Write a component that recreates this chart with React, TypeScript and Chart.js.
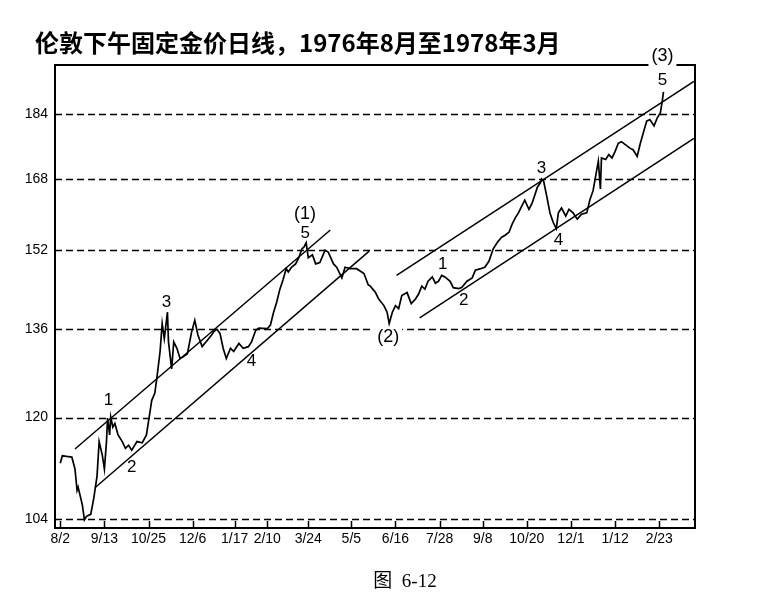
import React, { useEffect, useRef } from "react";
import Chart from "chart.js/auto";

const title = "伦敦下午固定金价日线，1976年8月至1978年3月";
const caption = "图\u00a0\u00a06-12";

// x values are days counted from 2 Aug 1976 (tick places as printed on the original)
const tickDays = [0, 42, 84, 126, 166, 197, 236, 277, 319, 361, 402, 444, 486, 528, 570];
const tickLabels = ["8/2", "9/13", "10/25", "12/6", "1/17", "2/10", "3/24", "5/5", "6/16", "7/28", "9/8", "10/20", "12/1", "1/12", "2/23"];
const priceTicks = [104, 120, 136, 152, 168, 184];

const goldDays = [
  0, 2, 6, 11, 14, 16, 17, 21, 23, 25, 29, 32, 35, 37, 40, 42, 44, 45, 47, 48,
  50, 52, 55, 59, 62, 65, 68, 73, 78, 82, 86, 87, 90, 92, 95, 97, 99, 102, 103, 106,
  108, 111, 114, 117, 121, 125, 128, 131, 135, 140, 144,
  146, 149, 152, 155, 158, 162, 165, 170, 174, 179, 182, 186, 189, 197, 200, 203, 206, 209, 212, 215,
  217, 220, 224, 227, 230, 232, 234, 236, 240, 243, 247, 252, 255, 260, 263, 268, 271, 276, 282, 289, 293,
  295, 300, 303, 308, 311, 313, 316, 319, 322, 325, 330, 334, 338, 341, 344, 347, 350, 354, 357, 360,
  363, 366, 371, 374, 379, 382, 387, 392, 395, 400, 404, 408, 412, 416, 420, 423, 427, 430, 433, 436,
  439, 442, 446, 449, 452, 454,
  457, 458, 460, 463, 466, 469, 472, 474, 477, 481, 484, 488, 492, 496, 501, 504, 507, 512, 514, 515,
  519, 522, 525, 528, 531, 534, 538, 542, 545, 549, 552, 555, 558, 561, 565, 568, 571, 573, 574,
];
const goldPrices = [
  112.5, 113.7, 113.6, 113.5, 111.6, 108.3, 108.8, 106.1, 103.9, 104.4, 104.7, 107.2, 110.5, 116.0, 113.8, 111.6, 116.0, 119.9, 117.1, 120.1,
  118.4, 119.0, 117.1, 116.0, 114.9, 115.4, 114.6, 116.0, 115.8, 117.1, 121.7, 122.9, 124.2, 127.0, 131.7, 137.0, 134.1, 139.2, 133.5, 128.5,
  133.5, 132.3, 130.4, 130.7, 131.3, 135.4, 137.6, 134.8, 132.6, 133.8, 134.8,
  135.4, 135.9, 135.1, 132.3, 130.4, 132.3, 131.7, 133.2, 132.3, 132.6, 133.5, 135.7, 136.1, 136.0, 136.7, 139.2, 141.2, 143.8, 145.7, 148.0,
  147.3, 148.3, 149.0, 150.3, 152.2, 152.6, 153.5, 150.3, 150.9, 149.0, 149.3, 151.9, 151.5, 149.0, 148.3, 146.1, 148.3, 148.0, 148.0, 147.0, 144.7,
  144.4, 143.1, 141.8, 140.5, 139.2, 137.0, 139.2, 140.5, 139.9, 142.5, 143.1, 140.9, 141.8, 142.8, 144.4, 143.8, 145.4, 146.3, 145.0, 145.4,
  146.6, 146.3, 145.4, 144.1, 143.9, 144.1, 145.4, 146.1, 147.7, 148.0, 148.3, 149.6, 152.2, 153.6, 154.7, 155.1, 155.8, 157.6, 159.0, 160.1,
  161.6, 163.0, 160.9, 162.3, 164.5, 166.0,
  167.1, 167.9, 167.4, 163.8, 160.1, 158.0, 156.6, 160.1, 161.2, 159.4, 160.9, 160.1, 158.7, 159.8, 160.1, 163.1, 165.2, 172.2, 165.6, 173.0,
  172.6, 173.8, 173.0, 174.6, 176.6, 177.0, 176.2, 175.4, 175.0, 173.4, 176.6, 179.4, 182.2, 182.6, 181.0, 183.0, 184.3, 187.7, 189.9,
];

// trend channel lines, start and end of each
const channelDays = [[14, 257], [33, 294], [320, 603], [342, 603]];
const channelPrices = [[114.8, 156.3], [108.7, 151.7], [146.6, 192.7], [138.1, 177.8]];

// Elliott wave counts
const waveLabels = ["1", "2", "3", "4", "5", "(1)", "(2)", "1", "2", "3", "4", "5", "(3)"];
const waveDays = [46, 68, 101, 182, 233, 233, 312, 364, 384, 458, 474, 573, 573];
const wavePrices = [122.9, 111.8, 141.2, 129.8, 155.5, 159.9, 134.5, 148.9, 141.6, 170.6, 154.0, 192.9, 199.7];

const tickFont = "'Liberation Sans', Arial, sans-serif";

const framePlugin = {
  id: "frame",
  beforeDatasetsDraw(chart: any) {
    const { ctx, chartArea: a, scales } = chart;
    ctx.save();
    ctx.strokeStyle = "#000";
    ctx.lineWidth = 1.6;
    ctx.setLineDash([7, 4]);
    priceTicks.forEach((v) => {
      const y = Math.round(scales.y.getPixelForValue(v)) + 0.5;
      ctx.beginPath();
      ctx.moveTo(a.left, y);
      ctx.lineTo(a.right, y);
      ctx.stroke();
    });
    ctx.restore();
  },
  afterDatasetsDraw(chart: any) {
    const { ctx, chartArea: a, scales } = chart;
    ctx.save();
    ctx.strokeStyle = "#000";
    ctx.lineWidth = 2;
    ctx.strokeRect(a.left, a.top, a.right - a.left, a.bottom - a.top);
    ctx.lineWidth = 1.5;
    tickDays.forEach((d) => {
      const x = Math.round(scales.x.getPixelForValue(d)) + 0.5;
      ctx.beginPath();
      ctx.moveTo(x, a.bottom);
      ctx.lineTo(x, a.bottom - 7);
      ctx.stroke();
    });
    ctx.textAlign = "center";
    ctx.textBaseline = "middle";
    waveLabels.forEach((t, i) => {
      const x = scales.x.getPixelForValue(waveDays[i]);
      const y = scales.y.getPixelForValue(wavePrices[i]);
      const paren = t.startsWith("(");
      ctx.font = (paren ? "18px " : "17px ") + tickFont;
      if (paren) {
        const w = ctx.measureText(t).width;
        ctx.fillStyle = "#fff";
        ctx.fillRect(x - w / 2 - 3, y - 10, w + 6, 20);
      }
      ctx.fillStyle = "#000";
      ctx.fillText(t, x, y);
    });
    ctx.restore();
  },
};

function GoldChart() {
  const canvasRef = useRef<HTMLCanvasElement>(null);

  useEffect(() => {
    if (!canvasRef.current) return;
    const lines = channelDays.map((days, i) => ({
      data: days.map((d, j) => ({ x: d, y: channelPrices[i][j] })),
      borderColor: "#000",
      borderWidth: 1.5,
      pointRadius: 0,
    }));
    const chart = new Chart(canvasRef.current, {
      type: "line",
      data: {
        datasets: [
          {
            data: goldDays.map((d, i) => ({ x: d, y: goldPrices[i] })),
            borderColor: "#000",
            borderWidth: 1.7,
            pointRadius: 0,
            tension: 0,
          },
          ...lines,
        ],
      },
      options: {
        responsive: false,
        animation: false,
        layout: { padding: { left: 0, top: 65, right: 82, bottom: 45 } },
        plugins: { legend: { display: false }, tooltip: { enabled: false } },
        scales: {
          x: {
            type: "linear",
            min: -5,
            max: 604,
            grid: { display: false, drawTicks: false },
            border: { display: false },
            afterBuildTicks: (scale: any) => {
              scale.ticks = tickDays.map((v) => ({ value: v }));
            },
            afterFit: (scale: any) => {
              scale.height = 30;
            },
            ticks: {
              autoSkip: false,
              maxRotation: 0,
              padding: 3,
              color: "#000",
              font: { family: tickFont, size: 14 },
              callback: (_v: any, i: number) => tickLabels[i],
            },
          },
          y: {
            type: "logarithmic",
            min: 102.7,
            max: 197.2,
            grid: { display: false, drawTicks: false },
            border: { display: false },
            afterBuildTicks: (scale: any) => {
              scale.ticks = priceTicks.map((v) => ({ value: v }));
            },
            afterFit: (scale: any) => {
              scale.width = 55;
            },
            ticks: {
              padding: 7,
              color: "#000",
              font: { family: tickFont, size: 14 },
              callback: (v: any) => String(v),
            },
          },
        },
      },
      plugins: [framePlugin],
    });
    return () => chart.destroy();
  }, []);

  return <canvas ref={canvasRef} width={777} height={603} style={{ position: "absolute", left: 0, top: 0 }} />;
}

export default function App() {
  return (
    <div style={{ position: "absolute", left: 0, top: 0, width: 777, height: 603, background: "#fff" }}>
      <GoldChart />
      <div
        style={{
          position: "absolute",
          left: 35,
          top: 27,
          font: "bold 24px 'Noto Sans CJK SC', sans-serif",
          lineHeight: "30px",
          color: "#000",
          whiteSpace: "nowrap",
        }}
      >
        {title}
      </div>
      <div
        style={{
          position: "absolute",
          left: 305,
          top: 565,
          width: 200,
          textAlign: "center",
          font: "19px 'Liberation Serif', 'Noto Sans CJK SC', serif",
          color: "#000",
        }}
      >
        {caption}
      </div>
    </div>
  );
}
